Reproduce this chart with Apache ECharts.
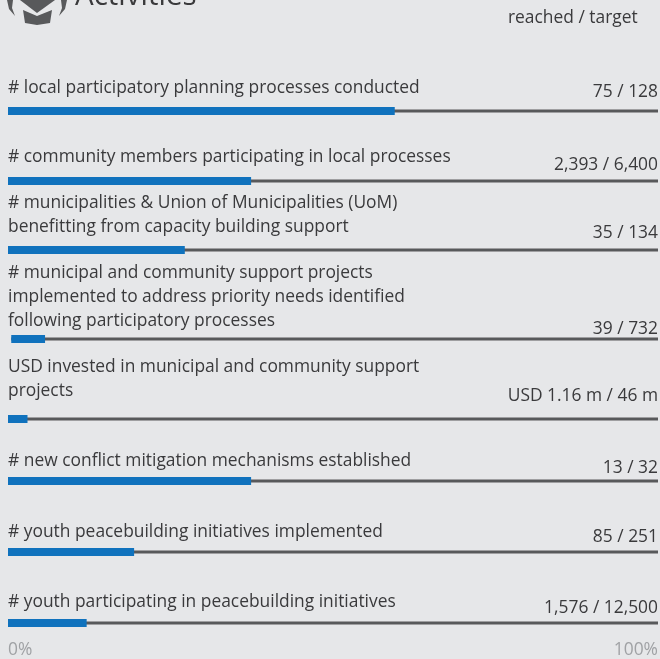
<!DOCTYPE html>
<html><head><meta charset="utf-8">
<style>html,body{margin:0;padding:0;background:#e6e7e9}#c{width:660px;height:659px}</style>
<script src="https://cdn.jsdelivr.net/npm/echarts@6/dist/echarts.min.js"></script>
</head><body><div id="c"></div>
<script>
const labels = [
 "# local participatory planning processes conducted",
 "# community members participating in local processes",
 "# municipalities & Union of Municipalities (UoM)\nbenefitting from capacity building support",
 "# municipal and community support projects\nimplemented to address priority needs identified\nfollowing participatory processes",
 "USD invested in municipal and community support\nprojects",
 "# new conflict mitigation mechanisms established",
 "# youth peacebuilding initiatives implemented",
 "# youth participating in peacebuilding initiatives"];
const reachedTarget = ["75 / 128","2,393 / 6,400","35 / 134","39 / 732","USD 1.16 m / 46 m","13 / 32","85 / 251","1,576 / 12,500"];
const percent = [59.5,37.4,27.2,5.2,3,37.4,19.4,12.1];
const startOffset = [0,0,0,0.5,0,0,0,0];
const scaleTicks = ["0%","100%"];
// layout only
const rowCenters = [111,181,250,339,419,481,552,623];
const labelGap = [23,24,23,18,28,20,20,21];
const valueGap = [19,16,17,10,23,13,15,15];

const FONT = '"Open Sans"';
const FS = 17.4;
const TEXT = '#3a3a3c';
const grids=[],xs=[],ys=[],series=[];
labels.forEach((l,i)=>{
  grids.push({left:8,right:2,top:rowCenters[i]-6,height:12});
  xs.push({gridIndex:i,type:'value',min:0,max:100,show:false});
  const trackY=ys.length;
  ys.push({gridIndex:i,type:'category',data:[l],show:false});
  const fillY=ys.length;
  ys.push({gridIndex:i,type:'category',data:[l],show:false});
  const base={type:'bar',xAxisIndex:i,barGap:'-100%',animation:false,silent:true};
  series.push({...base,yAxisIndex:trackY,name:'trackOffset'+i,stack:'t'+i,data:[startOffset[i]],barWidth:3,itemStyle:{color:'transparent'}});
  series.push({...base,yAxisIndex:trackY,name:'track'+i,stack:'t'+i,data:[100-startOffset[i]],barWidth:3,itemStyle:{color:'#58595b'},
    label:{show:true,position:['100%',13.5-valueGap[i]],align:'right',verticalAlign:'bottom',formatter:()=>reachedTarget[i],
      fontFamily:FONT,fontSize:FS,lineHeight:24,color:TEXT}});
  series.push({...base,yAxisIndex:trackY,name:'text'+i,data:[100],barWidth:3,itemStyle:{color:'transparent'},
    label:{show:true,position:[0,13.5-labelGap[i]],align:'left',verticalAlign:'bottom',formatter:()=>l,
      fontFamily:FONT,fontSize:FS,lineHeight:24,color:TEXT}});
  series.push({...base,yAxisIndex:fillY,name:'offset'+i,stack:'s'+i,data:[startOffset[i]],barWidth:8,itemStyle:{color:'transparent'}});
  series.push({...base,yAxisIndex:fillY,name:'reached'+i,stack:'s'+i,data:[percent[i]],barWidth:8,itemStyle:{color:'#1072bd'}});
});
const chart=echarts.init(document.getElementById('c'),null,{renderer:'canvas'});
chart.setOption({
  backgroundColor:'#e6e7e9',animation:false,
  grid:grids,xAxis:xs,yAxis:ys,series,
  graphic:[
    {type:'text',x:75,y:-18,style:{text:'Activities',font:'29.5px '+FONT,fill:'#3a3a3c'}},
    {type:'text',x:508,y:10,style:{text:'reached / target',font:FS+'px '+FONT,fill:TEXT}},
    {type:'text',x:8,y:642,style:{text:scaleTicks[0],font:FS+'px '+FONT,fill:'#a0a2a5'}},
    {type:'text',x:658,y:642,style:{text:scaleTicks[1],align:'right',font:FS+'px '+FONT,fill:'#a0a2a5'}},
    {type:'polygon',silent:true,shape:{points:[[20,0],[55,0],[37,13]]},style:{fill:'#58595b'}},
    {type:'polygon',silent:true,shape:{points:[[23,10],[37,16],[52,10],[50,23],[37,25],[25,23]]},style:{fill:'#58595b'}},
    {type:'polygon',silent:true,shape:{points:[[7,0],[13,0],[12,8],[15,16],[9,9]]},style:{fill:'#58595b'}},
    {type:'polygon',silent:true,shape:{points:[[67,0],[61,0],[62,8],[59,16],[65,9]]},style:{fill:'#58595b'}}
  ]
});
</script></body></html>
